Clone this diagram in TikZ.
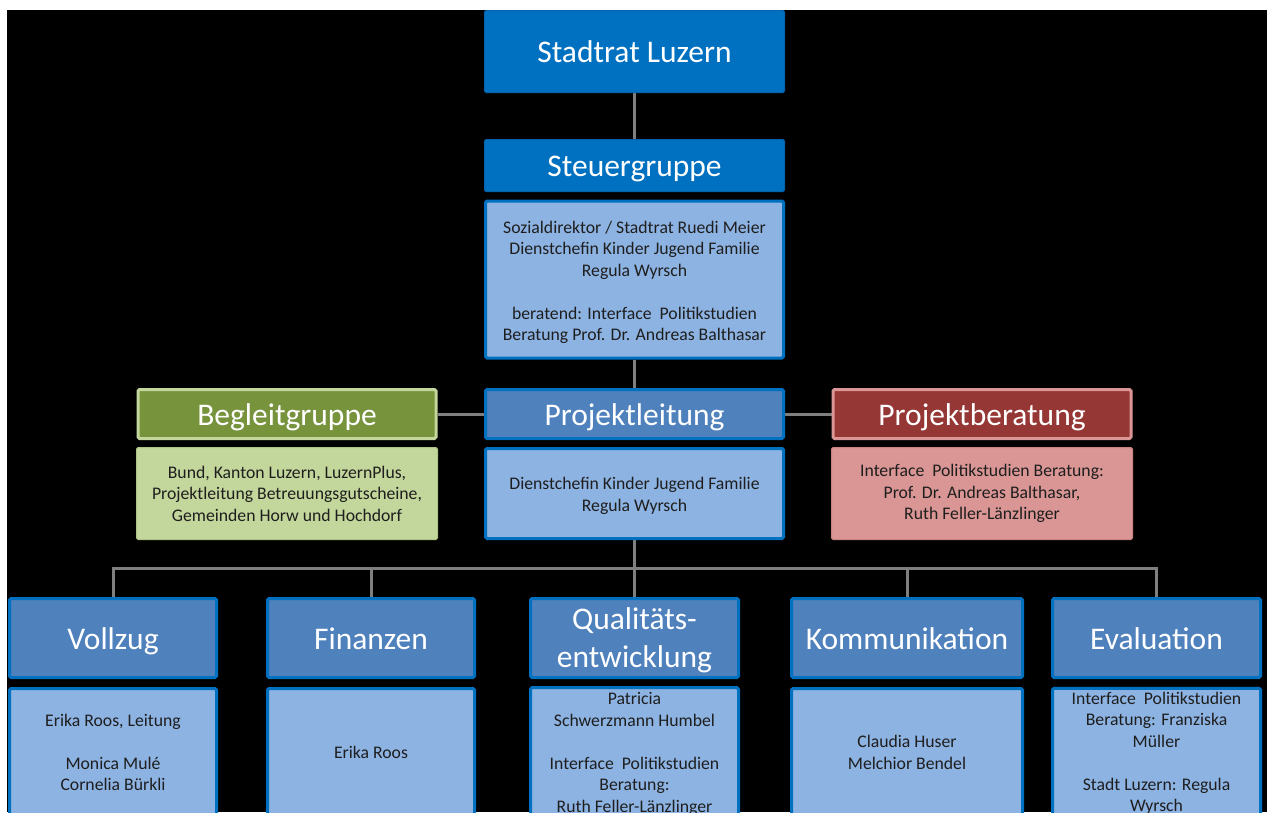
\documentclass[tikz,border=0pt]{standalone}
\usepackage{fontspec}
\setmainfont{Carlito}
\usetikzlibrary{backgrounds}
\definecolor{topblue}{HTML}{0070C0}
\definecolor{topedge}{HTML}{0064AE}
\definecolor{midblue}{HTML}{4F81BD}
\definecolor{lightblue}{HTML}{8DB3E2}
\definecolor{dkgreen}{HTML}{77933C}
\definecolor{ltgreen}{HTML}{C3D69B}
\definecolor{ltgreenedge}{HTML}{AFC386}
\definecolor{dkred}{HTML}{953735}
\definecolor{ltred}{HTML}{D99694}
\definecolor{ltrededge}{HTML}{C88482}
\definecolor{conngray}{HTML}{7F7F7F}
\definecolor{bodytext}{HTML}{1E1E1E}
\newcommand{\hdrfont}{\fontsize{31.5}{38}\selectfont}
\newcommand{\bodyfont}{\fontsize{17.7}{21.5}\selectfont}
\newcommand{\tstrut}[1]{\rule{0pt}{#1}}
\begin{document}
\begin{tikzpicture}[x=1pt,y=-1pt,
  box/.style={rectangle, rounded corners=1.5pt, align=center, inner sep=2pt},
  oneline/.style={text height=22pt, text depth=0pt},
  tophdr/.style={box, oneline, fill=topblue, draw=topedge, line width=1pt, text=white, font=\hdrfont},
  bluehdr/.style={box, fill=midblue, draw=topblue, line width=3pt, text=white, font=\hdrfont},
  bluebody/.style={box, fill=lightblue, draw=topblue, line width=3pt, text=bodytext, font=\bodyfont},
  greenhdr/.style={box, oneline, fill=dkgreen, draw=ltgreen, line width=3pt, text=white, font=\hdrfont},
  greenbody/.style={box, fill=ltgreen, draw=ltgreenedge, line width=1pt, text=bodytext, font=\bodyfont},
  redhdr/.style={box, oneline, fill=dkred, draw=ltred, line width=3pt, text=white, font=\hdrfont},
  redbody/.style={box, fill=ltred, draw=ltrededge, line width=1pt, text=bodytext, font=\bodyfont},
  conn/.style={draw=conngray, line width=3pt}
]
\useasboundingbox (0,0) rectangle (1267,812);

% top column
\node[tophdr, minimum width=300pt, minimum height=82pt] (stadtrat) at (634.5,51.5) {Stadtrat Luzern};
\node[tophdr, minimum width=300pt, minimum height=52pt] (steuer) at (634.5,165.5) {Steuergruppe};
\node[bluebody, minimum width=298pt, minimum height=157pt] (steuerbody) at (634.5,279.5)
  {\tstrut{18pt}Sozialdirektor / Stadtrat Ruedi Meier\\Dienstchefin Kinder Jugend Familie\\Regula Wyrsch\\[21.5pt]beratend: Interface~~Politikstudien\\Beratung Prof. Dr. Andreas Balthasar};

% middle row
\node[bluehdr, oneline, minimum width=298pt, minimum height=49pt] (projektleitung) at (634.5,414) {Projektleitung};
\node[bluebody, minimum width=298pt, minimum height=90pt] (plbody) at (634.5,493.5)
  {\tstrut{17pt}Dienstchefin Kinder Jugend Familie\\Regula Wyrsch};
\node[greenhdr, minimum width=298pt, minimum height=49pt] (begleit) at (287,414) {Begleitgruppe};
\node[greenbody, minimum width=301pt, minimum height=92pt] (begleitbody) at (287,493.5)
  {Bund, Kanton Luzern, LuzernPlus,\\Projektleitung Betreuungsgutscheine,\\Gemeinden Horw und Hochdorf};
\node[redhdr, minimum width=298pt, minimum height=49pt] (beratung) at (982,414) {Projektberatung};
\node[redbody, minimum width=301pt, minimum height=92pt] (beratungbody) at (982,493.5)
  {Interface~~Politikstudien Beratung:\\Prof. Dr. Andreas Balthasar,\\Ruth Feller-Länzlinger};

% bottom row
\node[bluehdr, oneline, minimum width=207pt, minimum height=79pt] (vollzug) at (113,638) {Vollzug};
\node[bluebody, minimum width=207pt, minimum height=128pt] (vollzugbody) at (113,752.5)
  {Erika Roos, Leitung\\[21.5pt]Monica Mulé\\Cornelia Bürkli};
\node[bluehdr, oneline, minimum width=207pt, minimum height=79pt] (finanzen) at (371,638) {Finanzen};
\node[bluebody, minimum width=207pt, minimum height=128pt] (finanzenbody) at (371,752.5)
  {Erika Roos};
\node[bluehdr, minimum width=208pt, minimum height=79pt] (qualitaet) at (634.5,638) {\tstrut{26pt}Qualitäts-\\entwicklung};
\node[bluebody, minimum width=208pt, minimum height=128pt] (qualitaetbody) at (634.5,752.5)
  {\tstrut{15pt}Patricia\\Schwerzmann Humbel\\[21.5pt]Interface~~Politikstudien\\Beratung:\\Ruth Feller-Länzlinger};
\node[bluehdr, oneline, minimum width=231pt, minimum height=79pt] (kommunikation) at (907,638) {Kommunikation};
\node[bluebody, minimum width=231pt, minimum height=128pt] (kommunikationbody) at (907,752.5)
  {Claudia Huser\\Melchior Bendel};
\node[bluehdr, oneline, minimum width=208pt, minimum height=79pt] (evaluation) at (1156.5,638) {Evaluation};
\node[bluebody, minimum width=208pt, minimum height=128pt] (evaluationbody) at (1156.5,752.5)
  {\tstrut{14pt}Interface~~Politikstudien\\Beratung: Franziska\\Müller\\[21.5pt]Stadt Luzern: Regula\\Wyrsch};

\begin{scope}[on background layer]
  \fill[white] (0,0) rectangle (1267,812);
  \fill[black] (7,10) rectangle (1267,812);
  \draw[conn] (stadtrat) -- (steuer);
  \draw[conn] (steuerbody) -- (projektleitung);
  \draw[conn] (begleit) -- (projektleitung);
  \draw[conn] (projektleitung) -- (beratung);
  \draw[conn] (plbody.south) -- ++(0,28) -| (vollzug.north);
  \draw[conn] (plbody.south) -- ++(0,28) -| (finanzen.north);
  \draw[conn] (plbody.south) -- (qualitaet.north);
  \draw[conn] (plbody.south) -- ++(0,28) -| (kommunikation.north);
  \draw[conn] (plbody.south) -- ++(0,28) -| (evaluation.north);
\end{scope}
\end{tikzpicture}
\end{document}
